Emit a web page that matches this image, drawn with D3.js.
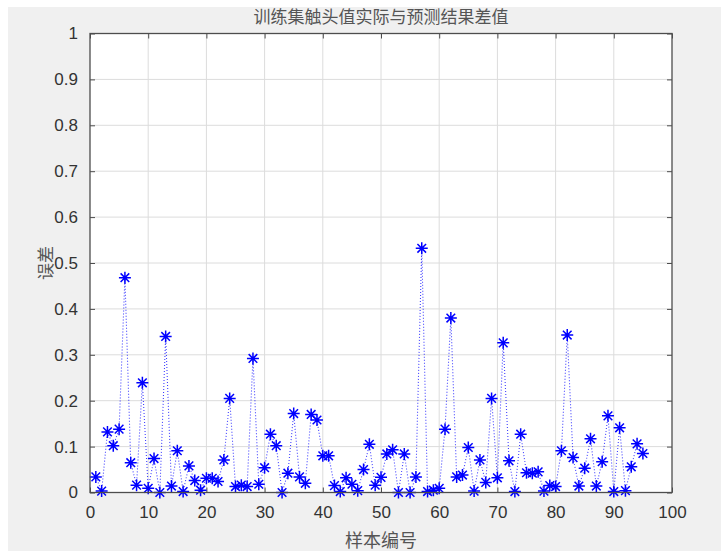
<!DOCTYPE html>
<html><head><meta charset="utf-8">
<script src="https://cdn.jsdelivr.net/npm/d3@7"></script>
<style>html,body{margin:0;padding:0;background:#fff;}svg{display:block;}</style>
</head><body>
<svg id="chart" width="722" height="551"></svg>
<script>
const titleText = "训练集触头值实际与预测结果差值";
const xLabel = "样本编号";
const yLabel = "误差";
const xTicks = [0,10,20,30,40,50,60,70,80,90,100];
const yTicks = [0,0.1,0.2,0.3,0.4,0.5,0.6,0.7,0.8,0.9,1];
const errors = [
  0.034,0.003,0.132,0.102,0.138,0.468,0.065,0.016,0.239,0.009,
  0.074,0.000,0.340,0.014,0.091,0.002,0.058,0.026,0.005,0.031,
  0.031,0.024,0.071,0.205,0.013,0.016,0.013,0.292,0.018,0.054,
  0.127,0.102,0.000,0.042,0.172,0.034,0.020,0.170,0.158,0.080,
  0.080,0.015,0.002,0.032,0.018,0.004,0.050,0.105,0.016,0.033,
  0.084,0.093,0.000,0.084,0.000,0.034,0.532,0.002,0.005,0.009,
  0.138,0.380,0.034,0.038,0.098,0.003,0.071,0.022,0.205,0.032,
  0.326,0.069,0.002,0.127,0.043,0.042,0.045,0.003,0.015,0.013,
  0.091,0.343,0.076,0.014,0.053,0.117,0.014,0.067,0.167,0.002,
  0.141,0.004,0.056,0.106,0.085
];
const data = errors.map((v,i)=>({x:i+1,y:v}));

const svg = d3.select("#chart");
svg.append("rect").attr("x",8).attr("y",7).attr("width",713).attr("height",544).attr("fill","#f0f0f0");

const L=90, R=672, T=33.5, B=492.5;
const x = d3.scaleLinear().domain([0,100]).range([L,R]);
const y = d3.scaleLinear().domain([0,1]).range([B,T]);

svg.append("rect").attr("x",L).attr("y",T).attr("width",R-L).attr("height",B-T).attr("fill","#fff");

// grid
const g = svg.append("g");
g.selectAll(".gx").data(xTicks.slice(1,-1)).join("line")
  .attr("x1",d=>x(d)).attr("x2",d=>x(d)).attr("y1",T).attr("y2",B)
  .attr("stroke","#dcdcdc").attr("stroke-width",1);
g.selectAll(".gy").data(yTicks.slice(1,-1)).join("line")
  .attr("y1",d=>y(d)).attr("y2",d=>y(d)).attr("x1",L).attr("x2",R)
  .attr("stroke","#dcdcdc").attr("stroke-width",1);

// axes with inward ticks
const fontNum = "'Liberation Sans', Arial, sans-serif";
const axB = svg.append("g").attr("transform",`translate(0,${B})`)
  .call(d3.axisBottom(x).tickValues(xTicks).tickSize(-5).tickPadding(13).tickFormat(d3.format("d")));
const axT = svg.append("g").attr("transform",`translate(0,${T})`)
  .call(d3.axisTop(x).tickValues(xTicks).tickSize(-5).tickFormat(""));
const axL = svg.append("g").attr("transform",`translate(${L},0)`)
  .call(d3.axisLeft(y).tickValues(yTicks).tickSize(-5).tickPadding(12).tickFormat(d=>d===0?"0":d===1?"1":d3.format(".1f")(d)));
const axR = svg.append("g").attr("transform",`translate(${R},0)`)
  .call(d3.axisRight(y).tickValues(yTicks).tickSize(-5).tickFormat(""));
[axB,axT,axL,axR].forEach(a=>{
  a.select(".domain").remove();
  a.selectAll(".tick line").attr("stroke","#4d4d4d").attr("stroke-width",1);
  a.selectAll("text").attr("fill","#333").style("font-family",fontNum).style("font-size","17px");
});

// data line
svg.append("path").datum(data)
  .attr("d", d3.line().x(d=>x(d.x)).y(d=>y(d.y)))
  .attr("fill","none").attr("stroke","#0000ff").attr("stroke-opacity",0.75)
  .attr("stroke-width",1.1).attr("stroke-dasharray","1,2");

// asterisk markers
const r = 6, rd = r*0.72;
const star = `M${-r},0L${r},0M0,${-r}L0,${r}M${-rd},${-rd}L${rd},${rd}M${-rd},${rd}L${rd},${-rd}`;
svg.append("g").selectAll("path").data(data).join("path")
  .attr("transform",d=>`translate(${x(d.x)},${y(d.y)})`)
  .attr("d",star).attr("stroke","#0000ff").attr("stroke-width",1.5).attr("fill","none");

// box
svg.append("rect").attr("x",L).attr("y",T).attr("width",R-L).attr("height",B-T)
  .attr("fill","none").attr("stroke","#4d4d4d").attr("stroke-width",1.3);

const fontCJK = "'Noto Sans CJK SC', sans-serif";
svg.append("text").attr("x",(L+R)/2).attr("y",23).attr("text-anchor","middle")
  .style("font-family",fontCJK).style("font-size","17px").attr("fill","#555").text(titleText);
svg.append("text").attr("x",(L+R)/2).attr("y",547).attr("text-anchor","middle")
  .style("font-family",fontCJK).style("font-size","18px").attr("fill","#555").text(xLabel);
svg.append("text").attr("transform",`translate(52,${(T+B)/2}) rotate(-90)`).attr("text-anchor","middle")
  .style("font-family",fontCJK).style("font-size","17px").attr("fill","#555").text(yLabel);
</script>
</body></html>
